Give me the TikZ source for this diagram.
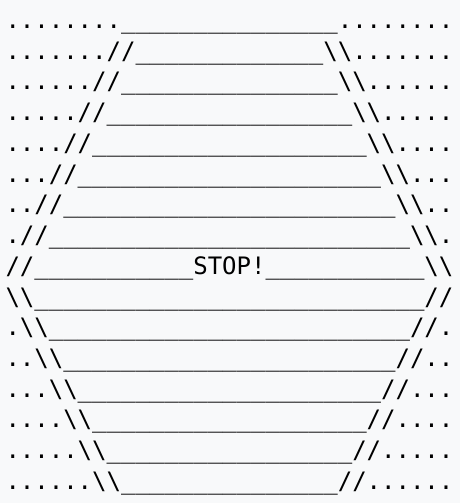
\documentclass[tikz,border=0pt]{standalone}
\usepackage{fontspec}
\setmonofont{DejaVu Sans Mono}
\definecolor{bgc}{HTML}{F8F9FA}
\newcommand\US[1]{\foreach\k in {1,...,#1}{\_}}
\newcommand\BS{\textbackslash}
\newcommand\ttline{\ttfamily\fontsize{24}{24}\selectfont}
\tikzset{asciiline/.style={anchor=base west, inner sep=0pt, outer sep=0pt, font=\ttline, text=black}}
\begin{document}
\begin{tikzpicture}
\useasboundingbox (0,0) rectangle (460pt,503pt);
\fill[bgc] (0,0) rectangle (460pt,503pt);
\node[asciiline] (l0)  at (5.5pt,{474.5pt-0*30.73pt})  {........\US{15}........};
\node[asciiline] (l1)  at (5.5pt,{474.5pt-1*30.73pt})  {.......//\US{13}\BS\BS.......};
\node[asciiline] (l2)  at (5.5pt,{474.5pt-2*30.73pt})  {......//\US{15}\BS\BS......};
\node[asciiline] (l3)  at (5.5pt,{474.5pt-3*30.73pt})  {.....//\US{17}\BS\BS.....};
\node[asciiline] (l4)  at (5.5pt,{474.5pt-4*30.73pt})  {....//\US{19}\BS\BS....};
\node[asciiline] (l5)  at (5.5pt,{474.5pt-5*30.73pt})  {...//\US{21}\BS\BS...};
\node[asciiline] (l6)  at (5.5pt,{474.5pt-6*30.73pt})  {..//\US{23}\BS\BS..};
\node[asciiline] (l7)  at (5.5pt,{474.5pt-7*30.73pt})  {.//\US{25}\BS\BS.};
\node[asciiline] (l8)  at (5.5pt,{474.5pt-8*30.73pt})  {//\US{11}STOP!\US{11}\BS\BS};
\node[asciiline] (l9)  at (5.5pt,{474.5pt-9*30.73pt})  {\BS\BS\US{27}//};
\node[asciiline] (l10) at (5.5pt,{474.5pt-10*30.73pt}) {.\BS\BS\US{25}//.};
\node[asciiline] (l11) at (5.5pt,{474.5pt-11*30.73pt}) {..\BS\BS\US{23}//..};
\node[asciiline] (l12) at (5.5pt,{474.5pt-12*30.73pt}) {...\BS\BS\US{21}//...};
\node[asciiline] (l13) at (5.5pt,{474.5pt-13*30.73pt}) {....\BS\BS\US{19}//....};
\node[asciiline] (l14) at (5.5pt,{474.5pt-14*30.73pt}) {.....\BS\BS\US{17}//.....};
\node[asciiline] (l15) at (5.5pt,{474.5pt-15*30.73pt}) {......\BS\BS\US{15}//......};
\end{tikzpicture}
\end{document}
